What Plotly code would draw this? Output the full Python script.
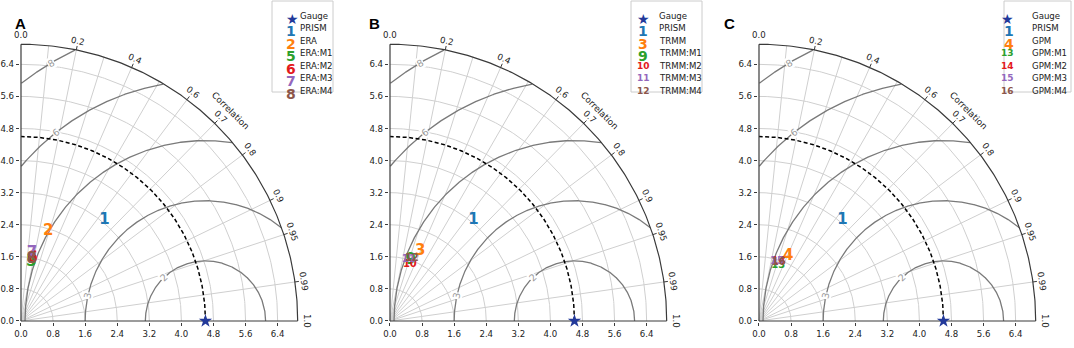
import numpy as np
import plotly.graph_objects as go

W, H = 1074, 348

# ---------------- data ----------------
panel_letters = ["A", "B", "C"]

ref_label = "Gauge"
ref_std = 4.6

prism_label = "PRISM"
prism_id = "1"
prism_std = 3.27
prism_cor = 0.636

era_labels = ["ERA", "ERA:M1", "ERA:M2", "ERA:M3", "ERA:M4"]
era_ids = ["2", "5", "6", "7", "8"]
era_std = [2.34, 1.49, 1.59, 1.71, 1.57]
era_cor = [0.29, 0.17, 0.18, 0.16, 0.17]

trmm_labels = ["TRMM", "TRMM:M1", "TRMM:M2", "TRMM:M3", "TRMM:M4"]
trmm_ids = ["3", "9", "10", "11", "12"]
trmm_std = [1.89, 1.61, 1.50, 1.61, 1.65]
trmm_cor = [0.40, 0.32, 0.33, 0.29, 0.33]

gpm_labels = ["GPM", "GPM:M1", "GPM:M2", "GPM:M3", "GPM:M4"]
gpm_ids = ["4", "13", "14", "15", "16"]
gpm_std = [1.78, 1.46, 1.56, 1.54, 1.54]
gpm_cor = [0.41, 0.33, 0.31, 0.29, 0.32]

std_ticks = [0.0, 0.8, 1.6, 2.4, 3.2, 4.0, 4.8, 5.6, 6.4]
std_max = 6.9
cor_grid = [0.1, 0.2, 0.3, 0.4, 0.5, 0.6, 0.7, 0.8, 0.9, 0.95, 0.99]
cor_ticks = [0.0, 0.2, 0.4, 0.6, 0.7, 0.8, 0.9, 0.95, 0.99, 1.0]
cor_tick_text = ["0.0", "0.2", "0.4", "0.6", "0.7", "0.8", "0.9", "0.95", "0.99", "1.0"]
rms_levels = [1.5, 3.0, 4.5, 6.0, 7.5]
rms_text = ["2", "3", "", "6", "8"]

# ---------------- style ----------------
series_colors = ["#ff7f0e", "#2ca02c", "#e31a1c", "#9467bd", "#8c564b"]
prism_color = "#1f77b4"
ref_color = "#22399a"
FONT = "DejaVu Sans"
grid_col = "#cfcfcf"
rms_col = "#7a7a7a"
axis_col = "#3a3a3a"
txt_col = "#222222"
rms_label_phi = [134, 168, None, 128.5, 121]

S = 40.1           # px per unit
ox_px = [21, 390, 759]
oy_px = 321
XR = [-0.03, 7.75]
YR = [-0.03, 7.95]
legend_w = [61, 71, 67]
letter_x = [12.5, 374, 736.5]

panels = [
    (era_labels, era_ids, era_std, era_cor),
    (trmm_labels, trmm_ids, trmm_std, trmm_cor),
    (gpm_labels, gpm_ids, gpm_std, gpm_cor),
]

fig = go.Figure()
annotations = []
shapes = []
layout_axes = {}


def add_line(xs, ys, xa, ya, color, width, dash=None):
    fig.add_trace(go.Scatter(x=xs, y=ys, mode="lines", xaxis=xa, yaxis=ya,
                             line=dict(color=color, width=width, dash=dash),
                             hoverinfo="skip", showlegend=False))


for i, (labels, ids, stds, cors) in enumerate(panels):
    k = "" if i == 0 else str(i + 1)
    xa, ya = "x" + k, "y" + k
    ox = ox_px[i]
    xd = [(ox + XR[0] * S) / W, (ox + XR[1] * S) / W]
    yd = [(H - (oy_px - YR[0] * S)) / H, (H - (oy_px - YR[1] * S)) / H]
    common = dict(showgrid=False, zeroline=False, showline=False,
                  tickvals=std_ticks, ticktext=["%.1f" % v for v in std_ticks],
                  ticks="outside", ticklen=3, tickwidth=1, tickcolor=axis_col,
                  automargin=False, fixedrange=True,
                  tickfont=dict(family=FONT, size=8.6, color=txt_col))
    xax = dict(common); xax.update(domain=xd, range=XR, anchor=ya)
    yax = dict(common); yax.update(domain=yd, range=YR, anchor=xa)
    layout_axes["xaxis" + k] = xax
    layout_axes["yaxis" + k] = yax

    th = np.linspace(0, np.pi / 2, 200)
    # std grid arcs
    for r in std_ticks[1:]:
        add_line(r * np.cos(th), r * np.sin(th), xa, ya, grid_col, 1)
    # correlation grid lines
    for c in cor_grid:
        a = np.arccos(c)
        add_line([0, std_max * np.cos(a)], [0, std_max * np.sin(a)], xa, ya, grid_col, 1)
    # RMS contours
    phi = np.linspace(0, np.pi, 900)
    for r, txt, lp in zip(rms_levels, rms_text, rms_label_phi):
        px = ref_std + r * np.cos(phi)
        py = r * np.sin(phi)
        m = (px ** 2 + py ** 2 <= std_max ** 2) & (px >= 0)
        px = np.where(m, px, np.nan)
        py = np.where(m, py, np.nan)
        add_line(px, py, xa, ya, rms_col, 1.3)
        if txt and lp is not None:
            p = np.radians(lp)
            annotations.append(dict(
                x=ref_std + r * np.cos(p), y=r * np.sin(p), xref=xa, yref=ya,
                text=txt, showarrow=False, textangle=-(lp - 90),
                font=dict(family=FONT, size=9.5, color="#9a9a9a"),
                bgcolor="white", borderpad=0))
    # reference dashed arc
    add_line(ref_std * np.cos(th), ref_std * np.sin(th), xa, ya, "black", 1.5, "4px,2.5px")
    # outer arc and axes
    add_line(std_max * np.cos(th), std_max * np.sin(th), xa, ya, axis_col, 1.2)
    add_line([0, std_max], [0, 0], xa, ya, axis_col, 1.2)
    add_line([0, 0], [0, std_max], xa, ya, axis_col, 1.2)
    # correlation ticks + labels
    for c, t in zip(cor_ticks, cor_tick_text):
        a = np.arccos(c)
        if 0 < c < 1:
            add_line([std_max * np.cos(a), (std_max + 0.1) * np.cos(a)],
                     [std_max * np.sin(a), (std_max + 0.1) * np.sin(a)], xa, ya, axis_col, 1)
        rr = 7.13
        annotations.append(dict(
            x=rr * np.cos(a), y=rr * np.sin(a), xref=xa, yref=ya, text=t,
            showarrow=False, textangle=90 - np.degrees(a),
            font=dict(family=FONT, size=8.6, color=txt_col)))
    a45 = np.radians(45)
    annotations.append(dict(
        x=7.4 * np.cos(a45), y=7.4 * np.sin(a45), xref=xa, yref=ya,
        text="Correlation", showarrow=False, textangle=45,
        font=dict(family=FONT, size=8.8, color=txt_col)))
    annotations.append(dict(
        x=std_max / 2, y=-0.56, xref=xa, yref=ya, text="Standard deviation",
        showarrow=False, font=dict(family=FONT, size=8.6, color=txt_col)))
    annotations.append(dict(
        x=letter_x[i] / W, y=(H - 13) / H, xref="paper", yref="paper",
        text="<b>%s</b>" % panel_letters[i],
        showarrow=False, font=dict(family="Liberation Sans", size=15, color="black")))

    # data markers
    fig.add_trace(go.Scatter(x=[ref_std], y=[0], mode="markers", xaxis=xa, yaxis=ya,
                             marker=dict(symbol="star", size=10, color=ref_color),
                             cliponaxis=False, hoverinfo="skip", showlegend=False))
    all_ids = [prism_id] + ids
    all_std = [prism_std] + stds
    all_cor = [prism_cor] + cors
    all_col = [prism_color] + series_colors
    for sid, s, c, col in zip(all_ids, all_std, all_cor, all_col):
        a = np.arccos(c)
        two = len(sid) > 1
        fig.add_trace(go.Scatter(
            x=[s * np.cos(a)], y=[s * np.sin(a)], mode="text", xaxis=xa, yaxis=ya,
            text=["<b>%s</b>" % sid], textposition="middle center",
            textfont=dict(family=FONT, size=10 if two else 15, color=col),
            cliponaxis=False, hoverinfo="skip", showlegend=False))

    # legend
    right = ox + 312
    left = right - legend_w[i]
    shapes.append(dict(type="rect", xref="paper", yref="paper",
                       x0=left / W, x1=right / W, y0=(H - 92) / H, y1=(H - 1) / H,
                       line=dict(color="#cccccc", width=1), fillcolor="white", layer="above"))
    leg_names = [ref_label, prism_label] + labels
    leg_ids = ["★"] + all_ids
    leg_cols = [ref_color] + all_col
    for j, (nm, sid, col) in enumerate(zip(leg_names, leg_ids, leg_cols)):
        yy = (H - (8.7 + 12.5 * j)) / H
        two = len(sid) > 1
        annotations.append(dict(
            x=(left + 12) / W, y=yy, xref="paper", yref="paper",
            text=sid if sid == "★" else "<b>%s</b>" % sid, showarrow=False,
            font=dict(family=FONT, size=9 if two else (14 if sid == "★" else 14), color=col)))
        annotations.append(dict(
            x=(left + 26) / W, y=yy, xref="paper", yref="paper", xanchor="left",
            text=nm, showarrow=False, font=dict(family=FONT, size=8.6, color=txt_col)))

fig.update_layout(
    width=W, height=H, margin=dict(l=0, r=0, t=0, b=0, autoexpand=False),
    paper_bgcolor="white", plot_bgcolor="white",
    showlegend=False, annotations=annotations, shapes=shapes,
    **layout_axes)

fig.write_html("out.html", config={"displayModeBar": False},
               post_script="document.body.style.margin='0';document.body.style.overflow='hidden';")
